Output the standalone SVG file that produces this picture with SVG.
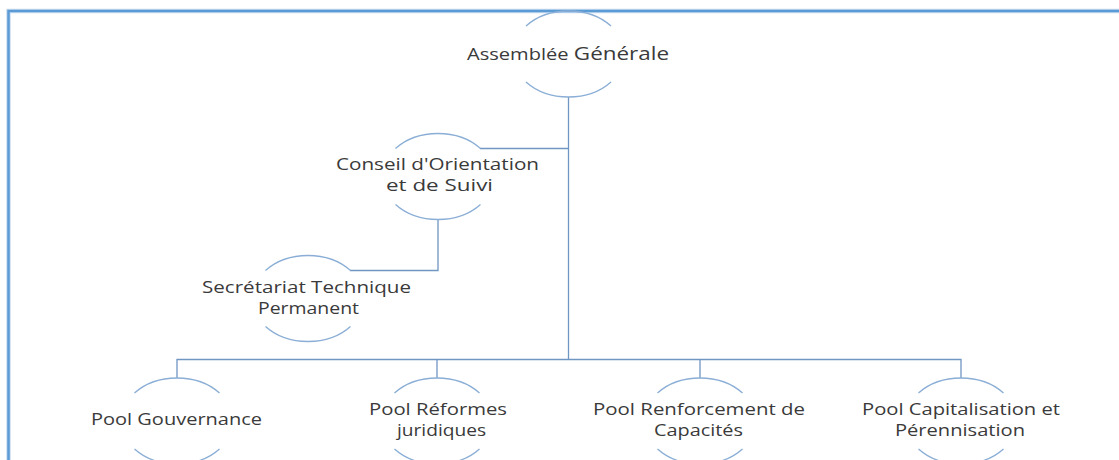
<svg xmlns="http://www.w3.org/2000/svg" width="1119" height="460" viewBox="0 0 1119 460">
<style>
.arc{fill:none;stroke:#8aaed6;stroke-width:1.3}
.con{fill:none;stroke:#7096c3;stroke-width:1.3}
.t{font-family:"Open Sans","Liberation Sans",sans-serif;font-size:17px;fill:#3a3a3a;text-anchor:middle}
</style>
<rect x="0" y="0" width="1119" height="460" fill="#ffffff"/>
<path d="M8.5,470 V11 H1130" fill="none" stroke="#c9dcf0" stroke-width="4.5"/>
<path d="M8.5,470 V11 H1130" fill="none" stroke="#5b9bd5" stroke-width="2.5"/>
<g id="connectors">
<path class="con" d="M568.5,97 V359.5"/>
<path class="con" d="M480,148.5 H568.5"/>
<path class="con" d="M438,219.5 V270.5 H350"/>
<path class="con" d="M177,378 V359.5 H961 V378"/>
<path class="con" d="M437,359.5 V378"/>
<path class="con" d="M700,359.5 V378"/>
</g>
<g id="assemblee">
<path class="arc" d="M526,26 A56 43 0 0 1 611,26 M526,82 A56 43 0 0 0 611,82"/>
<text class="t" x="568" y="60" textLength="202" lengthAdjust="spacingAndGlyphs">Assemblée <tspan font-size="19">Générale</tspan></text>
</g>
<g id="conseil">
<path class="arc" d="M395.5,148.5 A56 43 0 0 1 480.5,148.5 M395.5,204.5 A56 43 0 0 0 480.5,204.5"/>
<text class="t" x="437.5" y="170" textLength="203" lengthAdjust="spacingAndGlyphs">Conseil d'Orientation</text>
<text class="t" x="439.5" y="191" textLength="107" lengthAdjust="spacingAndGlyphs">et de Suivi</text>
</g>
<g id="secretariat">
<path class="arc" d="M265.5,270.5 A56 43 0 0 1 350.5,270.5 M265.5,326.5 A56 43 0 0 0 350.5,326.5"/>
<text class="t" x="306.5" y="293" textLength="209" lengthAdjust="spacingAndGlyphs">Secrétariat Technique</text>
<text class="t" x="308.5" y="314" textLength="101" lengthAdjust="spacingAndGlyphs">Permanent</text>
</g>
<g id="pool-gouvernance">
<path class="arc" d="M134.5,393 A56 43 0 0 1 219.5,393 M134.5,449 A56 43 0 0 0 219.5,449"/>
<text class="t" x="176.5" y="425" textLength="171" lengthAdjust="spacingAndGlyphs">Pool Gouvernance</text>
</g>
<g id="pool-reformes">
<path class="arc" d="M394.5,393 A56 43 0 0 1 479.5,393 M394.5,449 A56 43 0 0 0 479.5,449"/>
<text class="t" x="438" y="415" textLength="138" lengthAdjust="spacingAndGlyphs">Pool Réformes</text>
<text class="t" x="441.5" y="436" textLength="89" lengthAdjust="spacingAndGlyphs">juridiques</text>
</g>
<g id="pool-renforcement">
<path class="arc" d="M657.5,393 A56 43 0 0 1 742.5,393 M657.5,449 A56 43 0 0 0 742.5,449"/>
<text class="t" x="699" y="415" textLength="212" lengthAdjust="spacingAndGlyphs">Pool Renforcement de</text>
<text class="t" x="698.5" y="436" textLength="89" lengthAdjust="spacingAndGlyphs">Capacités</text>
</g>
<g id="pool-capitalisation">
<path class="arc" d="M918.5,393 A56 43 0 0 1 1003.5,393 M918.5,449 A56 43 0 0 0 1003.5,449"/>
<text class="t" x="961" y="415" textLength="198" lengthAdjust="spacingAndGlyphs">Pool Capitalisation et</text>
<text class="t" x="960" y="436" textLength="130" lengthAdjust="spacingAndGlyphs">Pérennisation</text>
</g>
</svg>
